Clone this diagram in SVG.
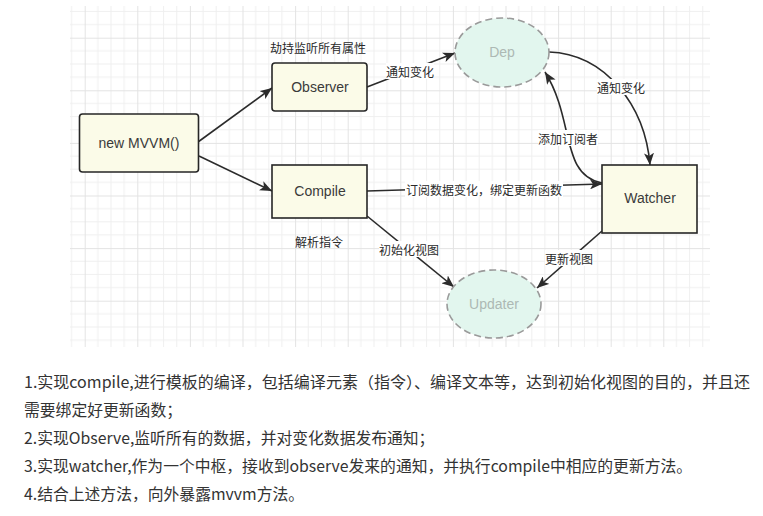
<svg xmlns="http://www.w3.org/2000/svg" width="763" height="516" viewBox="0 0 763 516">
<defs>
<pattern id="grid" patternUnits="userSpaceOnUse" x="32.1" y="-14.9" width="52.6" height="52.6">
<path d="M13.15,0 V52.6 M26.3,0 V52.6 M39.45,0 V52.6 M0,13.15 H52.6 M0,26.3 H52.6 M0,39.45 H52.6" stroke="#efefef" stroke-width="1" fill="none"/>
<path d="M0.5,0 V52.6 M0,0.5 H52.6" stroke="#e3e3e3" stroke-width="1" fill="none"/>
</pattern>
<marker id="arr" markerUnits="userSpaceOnUse" viewBox="0 0 12 10" refX="12" refY="5" markerWidth="12" markerHeight="10" orient="auto">
<path d="M0,0 L12,5 L0,10 L3,5 z" fill="#2b2b2b"/>
</marker>
</defs>
<style>
.box{fill:#fbfbe8;stroke:#262626;stroke-width:1.6}
.ell{fill:#e2f6ee;stroke:#9a9a9a;stroke-width:1.6;stroke-dasharray:7 4}
.nt{font-family:"Liberation Sans",Arial,sans-serif;font-size:14px;fill:#3a3a3a;text-anchor:middle;dominant-baseline:central}
.et{font-family:"Liberation Sans",Arial,sans-serif;font-size:14px;fill:#adb9b4;text-anchor:middle;dominant-baseline:central}
.lb{font-family:"Noto Sans CJK SC",sans-serif;font-size:12px;fill:#2a2a2a;text-anchor:middle;dominant-baseline:central}
.lbg{fill:#ffffff}
.c{fill:none;stroke:#2b2b2b;stroke-width:1.6;marker-end:url(#arr)}
.p{font-family:"Noto Sans CJK SC",sans-serif;font-size:15.8px;fill:#333333}
</style>
<rect width="763" height="516" fill="#ffffff"/>
<rect x="70" y="6" width="640" height="341" fill="url(#grid)"/>

<g id="connectors">
<path class="c" d="M198,142 L272,88"/>
<path class="c" d="M199,156 L272,191"/>
<path class="c" d="M367,87 L455,53"/>
<path class="c" d="M549,52 C605,54 645,105 650,165"/>
<path class="c" d="M602,183 C560,175 575,120 545,72"/>
<path class="c" d="M367,191 L602,184"/>
<path class="c" d="M367,216 L454,287"/>
<path class="c" d="M602,231 L537,288"/>
</g>

<g id="labels">
<rect class="lbg" x="386" y="63" width="48" height="16"/>
<text class="lb" x="410" y="71">通知变化</text>
<rect class="lbg" x="597" y="79" width="48" height="16"/>
<text class="lb" x="621" y="87">通知变化</text>
<rect class="lbg" x="538" y="130" width="60" height="16"/>
<text class="lb" x="568" y="138">添加订阅者</text>
<rect class="lbg" x="405" y="181" width="158" height="16"/>
<text class="lb" x="484" y="189">订阅数据变化，绑定更新函数</text>
<rect class="lbg" x="379" y="241" width="60" height="16"/>
<text class="lb" x="409" y="249">初始化视图</text>
<rect class="lbg" x="545" y="250" width="48" height="16"/>
<text class="lb" x="569" y="258">更新视图</text>
<text class="lb" x="318" y="47">劫持监听所有属性</text>
<text class="lb" x="319" y="241">解析指令</text>
</g>

<g id="mvvm">
<rect class="box" x="79.5" y="114" width="119" height="58" rx="3"/>
<text class="nt" x="139" y="143">new MVVM()</text>
</g>
<g id="observer">
<rect class="box" x="272" y="63" width="95" height="48" rx="3"/>
<text class="nt" x="320" y="87">Observer</text>
</g>
<g id="compile">
<rect class="box" x="272" y="165" width="95" height="53"/>
<text class="nt" x="320" y="191">Compile</text>
</g>
<g id="watcher">
<rect class="box" x="602" y="165" width="95" height="68"/>
<text class="nt" x="650" y="198">Watcher</text>
</g>
<g id="dep">
<ellipse class="ell" cx="502" cy="52.5" rx="47" ry="34.5"/>
<text class="et" x="502" y="52">Dep</text>
</g>
<g id="updater">
<ellipse class="ell" cx="494" cy="304" rx="47" ry="34"/>
<text class="et" x="494" y="304">Updater</text>
</g>

<g id="notes">
<text class="p" x="24" y="388" textLength="726" lengthAdjust="spacingAndGlyphs">1.实现compile,进行模板的编译，包括编译元素（指令）、编译文本等，达到初始化视图的目的，并且还</text>
<text class="p" x="24" y="416">需要绑定好更新函数；</text>
<text class="p" x="24" y="444">2.实现Observe,监听所有的数据，并对变化数据发布通知；</text>
<text class="p" x="24" y="472">3.实现watcher,作为一个中枢，接收到observe发来的通知，并执行compile中相应的更新方法。</text>
<text class="p" x="24" y="500">4.结合上述方法，向外暴露mvvm方法。</text>
</g>
</svg>
